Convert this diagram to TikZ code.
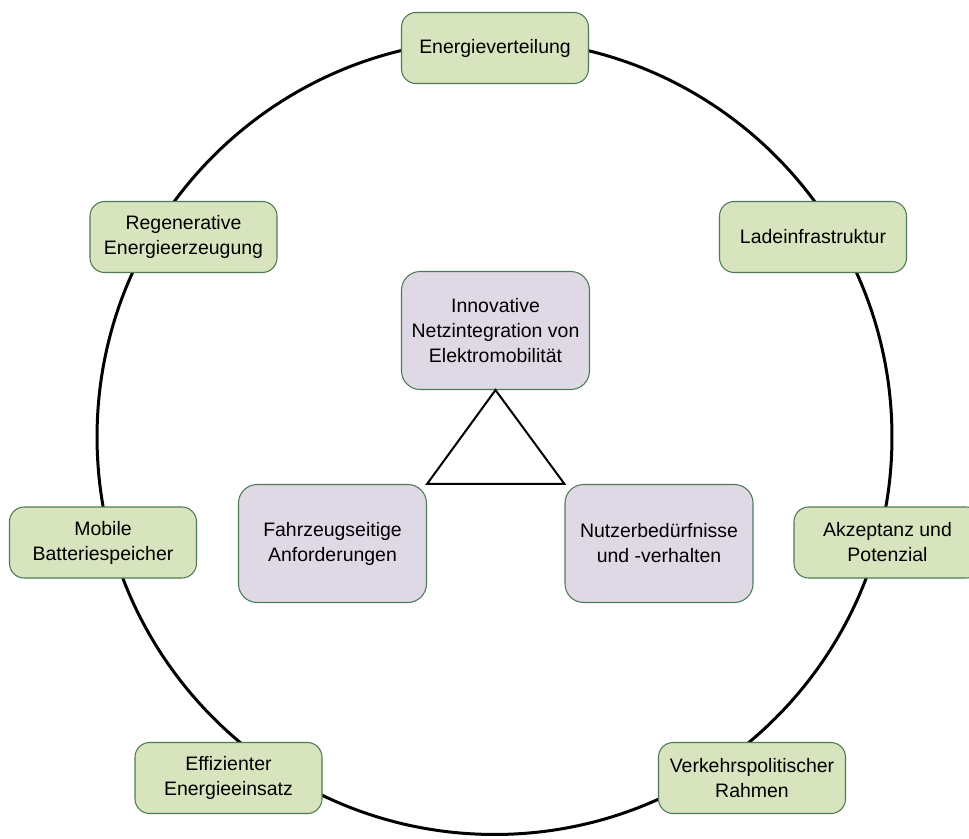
\documentclass[tikz,border=0pt]{standalone}
\usepackage{fontspec}
\setmainfont{Liberation Sans}
\definecolor{themefill}{HTML}{D7E4BD}
\definecolor{corefill}{HTML}{DFD9E6}
\definecolor{boxline}{HTML}{4E7B55}
\tikzset{every node/.style={font=\fontsize{14.6}{18.75}\selectfont},line cap=round,line join=round}
\tikzset{
  themebox/.style={draw=boxline,line width=0.8pt,fill=themefill,rounded corners=11pt,
    minimum width=140.25pt,minimum height=53.25pt,align=center,inner sep=2pt},
  corebox/.style={draw=boxline,line width=0.8pt,fill=corefill,rounded corners=14pt,
    minimum width=141pt,minimum height=88.5pt,align=center,inner sep=2pt}
}
\begin{document}
\begin{tikzpicture}[x=0.75pt,y=-0.75pt]
  \useasboundingbox (0,0) rectangle (969,838);
  % ring behind the themes
  \coordinate (ringc) at (494.5,437);
  \draw[line width=2.25pt] (ringc) circle[radius=298.1pt];

  \node[themebox] (verteilung) at (495,48) {Energieverteilung};
  \node[themebox] (laden) at (813,237) {Ladeinfrastruktur};
  \node[themebox] (akzeptanz) at (887.5,542.5) {Akzeptanz und\\Potenzial};
  \node[themebox] (verkehr) at (752,778) {Verkehrspolitischer\\Rahmen};
  \node[themebox] (effizienz) at (228.5,778) {Effizienter\\Energieeinsatz};
  \node[themebox] (batterie) at (103,542.5) {Mobile\\Batteriespeicher};
  \node[themebox] (erzeugung) at (183.5,237) {Regenerative\\Energieerzeugung};

  \node[corebox] (netz) at (495.5,330.5) {Innovative\\Netzintegration von\\Elektromobilität};
  \node[corebox] (fahrzeug) at (332.5,543.5) {Fahrzeugseitige\\Anforderungen};
  \node[corebox] (nutzer) at (659,543.5) {Nutzerbedürfnisse\\und -verhalten};

  \draw[line width=1.5pt] (netz.south) -- (fahrzeug.north east) -- (nutzer.north west) -- cycle;
\end{tikzpicture}
\end{document}
